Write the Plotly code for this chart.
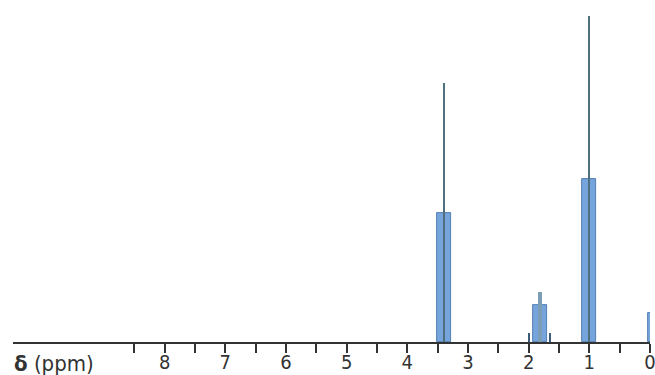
import plotly.graph_objects as go

# 1H NMR stick spectrum (1-bromopropane, with TMS reference)
# Broad multiplet components: chemical shift (ppm), relative intensity, line width (ppm)
band_ppm = [3.453, 3.335, 1.871, 1.755, 1.063, 0.948, 0.0]
band_int = [0.396, 0.396, 0.113, 0.113, 0.500, 0.500, 0.089]
band_width = [0.115, 0.115, 0.115, 0.115, 0.115, 0.115, 0.05]

# Sharp central / outer lines of each multiplet
line_ppm = [3.395, 1.813, 1.994, 1.648, 1.005]
line_int = [0.795, 0.153, 0.028, 0.028, 1.000]
line_width = [0.035, 0.06, 0.03, 0.03, 0.035]
line_color = ["#50707f", "#7d9db5", "#3a5a78", "#3a5a78", "#50707f"]

major_ticks = [8, 7, 6, 5, 4, 3, 2, 1, 0]
minor_ticks = [8.5, 7.5, 6.5, 5.5, 4.5, 3.5, 2.5, 1.5, 0.5]
tick_labels = [str(t) for t in major_ticks]

FONT = "Liberation Sans Narrow, DejaVu Sans Condensed, Arial Narrow, sans-serif"

fig = go.Figure()
fig.add_trace(go.Bar(
    x=band_ppm, y=band_int, width=band_width,
    marker=dict(color="#75a5dc", line=dict(color="#3b6aa3", width=0.8)),
    cliponaxis=False, hoverinfo="x+y",
))
fig.add_trace(go.Bar(
    x=line_ppm, y=line_int, width=line_width,
    marker=dict(color=line_color, line=dict(width=0)),
    cliponaxis=False, hoverinfo="x+y",
))

fig.update_layout(
    width=655, height=375,
    margin=dict(l=13, r=5, t=16, b=33, autoexpand=False),
    paper_bgcolor="white", plot_bgcolor="white",
    barmode="overlay", showlegend=False, bargap=0,
    xaxis=dict(
        range=[10.5, 0], showgrid=False, zeroline=False, automargin=False,
        showline=True, linecolor="#333333", linewidth=2,
        tickmode="array", tickvals=major_ticks, ticktext=tick_labels,
        ticks="outside", ticklen=9, tickwidth=1.6, tickcolor="#333333",
        ticklabeloverflow="allow", ticklabelstandoff=-8,
        tickfont=dict(family=FONT, size=20, color="#333333"),
        minor=dict(tickmode="array", tickvals=minor_ticks, ticks="outside",
                   ticklen=9, tickwidth=1.6, tickcolor="#333333"),
    ),
    yaxis=dict(range=[0, 1.0], visible=False, fixedrange=True, automargin=False),
    annotations=[dict(
        text="<b>δ</b> (ppm)", xref="paper", yref="paper",
        x=0, y=0, xanchor="left", yanchor="top", yshift=-7, xshift=-1,
        showarrow=False, font=dict(family=FONT, size=22, color="#333333"),
    )],
)

fig.write_html("out.html")
